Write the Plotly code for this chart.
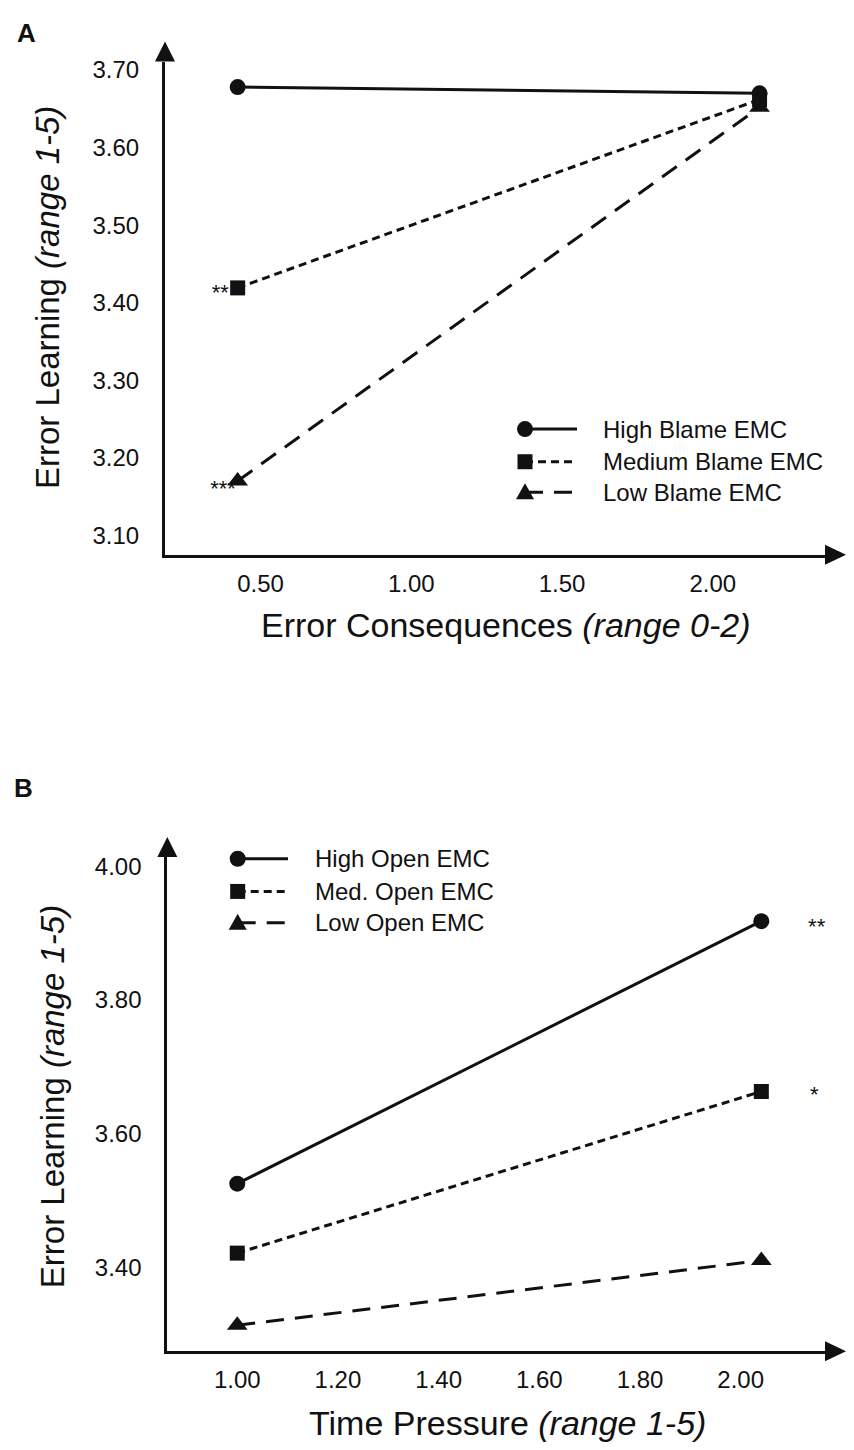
import plotly.graph_objects as go

# page body adds an 8px margin, so the figure is drawn 8px in from the corner
OFF = 8
W, H = 854 - 2 * OFF, 1450 - 2 * OFF

# Panel A: error consequences x blame EMC
a_x = [0.424, 2.155]
a_high = [3.678, 3.670]
a_med = [3.419, 3.662]
a_low = [3.170, 3.652]
a_names = ["High Blame EMC", "Medium Blame EMC", "Low Blame EMC"]
a_xticks = [0.50, 1.00, 1.50, 2.00]
a_yticks = [3.10, 3.20, 3.30, 3.40, 3.50, 3.60, 3.70]
a_stars = ["**", "***"]
a_star_x = [0.395, 0.418]
a_star_y = [3.411, 3.158]

# Panel B: time pressure x openness EMC
b_x = [1.00, 2.041]
b_high = [3.525, 3.918]
b_med = [3.421, 3.663]
b_low = [3.313, 3.410]
b_names = ["High Open EMC", "Med. Open EMC", "Low Open EMC"]
b_xticks = [1.00, 1.20, 1.40, 1.60, 1.80, 2.00]
b_yticks = [3.40, 3.60, 3.80, 4.00]
b_stars = ["**", "*"]
b_star_x = [2.151, 2.146]
b_star_y = [3.907, 3.656]

FONT = "Liberation Sans, Arial, sans-serif"
INK = "#111111"


def px_x(p):
    return (p - OFF) / W


def px_y(p):
    return 1 - (p - OFF) / H


styles = [
    dict(symbol="circle", size=16, dash="solid"),
    dict(symbol="square", size=15, dash="8px,5px"),
    dict(symbol="triangle-up", size=18, dash="18px,11px"),
]

fig = go.Figure()

for i, (name, ys) in enumerate(zip(a_names, [a_high, a_med, a_low])):
    st = styles[i]
    fig.add_trace(
        go.Scatter(
            x=a_x, y=ys, name=name, mode="lines+markers",
            line=dict(color=INK, width=3, dash=st["dash"]),
            marker=dict(symbol=st["symbol"], size=st["size"], color=INK),
            xaxis="x", yaxis="y", showlegend=False, cliponaxis=False,
        )
    )

for i, (name, ys) in enumerate(zip(b_names, [b_high, b_med, b_low])):
    st = styles[i]
    fig.add_trace(
        go.Scatter(
            x=b_x, y=ys, name=name, mode="lines+markers",
            line=dict(color=INK, width=3, dash=st["dash"]),
            marker=dict(symbol=st["symbol"], size=st["size"], color=INK),
            xaxis="x2", yaxis="y2", showlegend=False, cliponaxis=False,
        )
    )

# significance stars
fig.add_trace(
    go.Scatter(
        x=a_star_x, y=a_star_y, text=a_stars, mode="text",
        textposition="middle left", textfont=dict(size=22, color=INK, family=FONT),
        showlegend=False, xaxis="x", yaxis="y", cliponaxis=False,
    )
)
fig.add_trace(
    go.Scatter(
        x=b_star_x, y=b_star_y, text=b_stars, mode="text",
        textposition="middle center", textfont=dict(size=22, color=INK, family=FONT),
        showlegend=False, xaxis="x2", yaxis="y2", cliponaxis=False,
    )
)

axis_common = dict(
    showline=True, linecolor=INK, linewidth=3, showgrid=False, zeroline=False,
    ticks="", tickformat=".2f", tickfont=dict(size=24, color=INK, family=FONT),
)

fig.update_layout(
    width=W, height=H,
    margin=dict(l=0, r=0, t=0, b=0),
    paper_bgcolor="white", plot_bgcolor="white",
    font=dict(family=FONT, color=INK),
    showlegend=False,
    xaxis=dict(domain=[px_x(165), px_x(825)], range=[0.183, 2.372], anchor="y",
               tickvals=a_xticks, ticklabelstandoff=5, **axis_common),
    yaxis=dict(domain=[px_y(551.7), px_y(56.7)], range=[3.0747, 3.711], anchor="x",
               tickvals=a_yticks, ticklabelstandoff=18, **axis_common),
    xaxis2=dict(domain=[px_x(167.3), px_x(825)], range=[0.861, 2.1675], anchor="y2",
                tickvals=b_xticks, ticklabelstandoff=5, **axis_common),
    yaxis2=dict(domain=[px_y(1351), px_y(855)], range=[3.274, 4.014], anchor="x2",
                tickvals=b_yticks, ticklabelstandoff=18, **axis_common),
)

shapes = []
# arrow heads at the end of each axis
for xr, yr in [("x", "y"), ("x2", "y2")]:
    shapes.append(dict(type="path", xref=xr + " domain", yref=yr + " domain",
                       xsizemode="pixel", ysizemode="pixel", xanchor=0, yanchor=1,
                       path="M-10,0 L10,0 L0,20 Z", fillcolor=INK, line=dict(width=0)))
    shapes.append(dict(type="path", xref=xr + " domain", yref=yr + " domain",
                       xsizemode="pixel", ysizemode="pixel", xanchor=1, yanchor=0,
                       path="M0,-10 L0,10 L21,0 Z", fillcolor=INK, line=dict(width=0)))

notes = []


def add_key(names, mark_x, line_end, text_x, rows):
    # hand-drawn legend: marker on the left, line running to the right, then label
    for i, name in enumerate(names):
        st = styles[i]
        yy = px_y(rows[i])
        shapes.append(dict(type="line", xref="paper", yref="paper",
                           x0=px_x(mark_x), x1=px_x(line_end), y0=yy, y1=yy,
                           line=dict(color=INK, width=3, dash=st["dash"])))
        marker = dict(xref="paper", yref="paper", xsizemode="pixel", ysizemode="pixel",
                      xanchor=px_x(mark_x), yanchor=yy, fillcolor=INK, line=dict(width=0))
        if st["symbol"] == "circle":
            marker.update(type="circle", x0=-8, x1=8, y0=-8, y1=8)
        elif st["symbol"] == "square":
            marker.update(type="rect", x0=-7.5, x1=7.5, y0=-7.5, y1=7.5)
        else:
            marker.update(type="path", path="M-9,-7 L9,-7 L0,9 Z")
        shapes.append(marker)
        notes.append(dict(text=name, x=px_x(text_x), y=yy, xanchor="left",
                          font=dict(size=24)))


add_key(a_names, 525, 577, 601, [425.5, 458.3, 489])
add_key(b_names, 237.7, 288, 313, [856.7, 889.5, 921])

notes.append(dict(text="<b>A</b>", x=px_x(26), y=px_y(28), font=dict(size=26)))
notes.append(dict(text="<b>B</b>", x=px_x(23), y=px_y(786), font=dict(size=26)))
notes.append(dict(text="Error Learning <i>(range 1-5)</i>", x=px_x(47), y=px_y(294),
                  textangle=-90, font=dict(size=33)))
notes.append(dict(text="Error Consequences <i>(range 0-2)</i>", x=px_x(505), y=px_y(622),
                  font=dict(size=34)))
notes.append(dict(text="Error Learning <i>(range 1-5)</i>", x=px_x(52), y=px_y(1096),
                  textangle=-90, font=dict(size=33)))
notes.append(dict(text="Time Pressure <i>(range 1-5)</i>", x=px_x(507), y=px_y(1423),
                  font=dict(size=34)))
for n in notes:
    n.setdefault("xanchor", "center")
    n.update(xref="paper", yref="paper", showarrow=False, yanchor="middle")
    n["font"].update(color=INK, family=FONT)

fig.update_layout(shapes=shapes, annotations=notes)

fig.write_html("out.html")
